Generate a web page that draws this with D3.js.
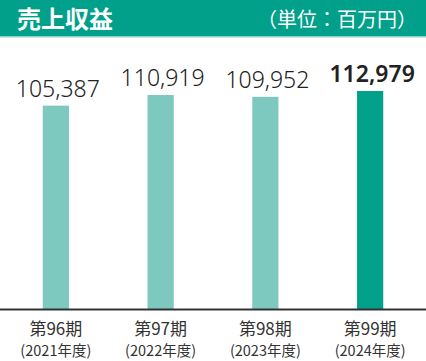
<!DOCTYPE html>
<html><head><meta charset="utf-8">
<script src="https://cdn.jsdelivr.net/npm/d3@7"></script>
<style>html,body{margin:0;padding:0;background:#fff;}svg{display:block;}</style>
</head><body>
<script>
const title = "売上収益";
const unit = "（単位：百万円）";
const periods = ["第96期","第97期","第98期","第99期"];
const years = ["(2021年度)","(2022年度)","(2023年度)","(2024年度)"];
const values = [105387, 110919, 109952, 112979];
const highlight = [false, false, false, true];

const W = 426, H = 361;
const svg = d3.select("body").append("svg").attr("width", W).attr("height", H);
const font = "'Noto Sans CJK JP','Noto Sans',sans-serif";

svg.append("rect").attr("x",0).attr("y",0).attr("width",W).attr("height",36).attr("fill","#00A08A");
svg.append("rect").attr("x",0).attr("y",36).attr("width",W).attr("height",1.5).attr("fill","#8fd0c6");
svg.append("text").attr("x",17).attr("y",28).attr("fill","#fff").attr("font-family",font)
  .attr("font-weight",700).attr("font-size",24).text(title);
svg.append("text").attr("x",417).attr("y",27).attr("text-anchor","end").attr("fill","#fff").attr("font-family",font)
  .attr("font-weight",400).attr("font-size",20).text(unit);

const x = d3.scaleBand().domain(periods).range([4, 422]).paddingInner(0.75).paddingOuter(0.37);
const y = d3.scaleLinear().domain([0, 112979]).range([309, 91]);

svg.selectAll("rect.bar").data(values).join("rect").attr("class","bar")
  .attr("x",(d,i)=>x(periods[i])).attr("width",x.bandwidth())
  .attr("y",d=>y(d)).attr("height",d=>y(0)-y(d))
  .attr("fill",(d,i)=>highlight[i]?"#00A08A":"#7DC8BF");

svg.selectAll("text.val").data(values).join("text").attr("class","val")
  .attr("x",(d,i)=>x(periods[i])+x.bandwidth()/2+2).attr("y",d=>y(d)-9)
  .attr("text-anchor","middle").attr("font-family","'Noto Sans',sans-serif")
  .attr("font-size",23).attr("font-weight",(d,i)=>highlight[i]?600:300)
  .attr("fill","#222").text(d=>d3.format(",")(d));

svg.append("line").attr("x1",0).attr("x2",W).attr("y1",309.5).attr("y2",309.5)
  .attr("stroke","#333").attr("stroke-width",1.8);

const axis = d3.axisBottom(x).tickSize(0).tickFormat("");
svg.append("g").attr("transform","translate(0,309)").call(axis).call(g=>g.select(".domain").remove());

svg.selectAll("text.per").data(periods).join("text").attr("class","per")
  .attr("x",d=>x(d)+x.bandwidth()/2).attr("y",335)
  .attr("text-anchor","middle").attr("font-family",font).attr("font-size",17)
  .attr("fill","#333").text(d=>d);
svg.selectAll("text.yr").data(years).join("text").attr("class","yr")
  .attr("x",(d,i)=>x(periods[i])+x.bandwidth()/2).attr("y",356)
  .attr("text-anchor","middle").attr("font-family",font).attr("font-size",14.5)
  .attr("fill","#333").text(d=>d);
</script>
</body></html>
